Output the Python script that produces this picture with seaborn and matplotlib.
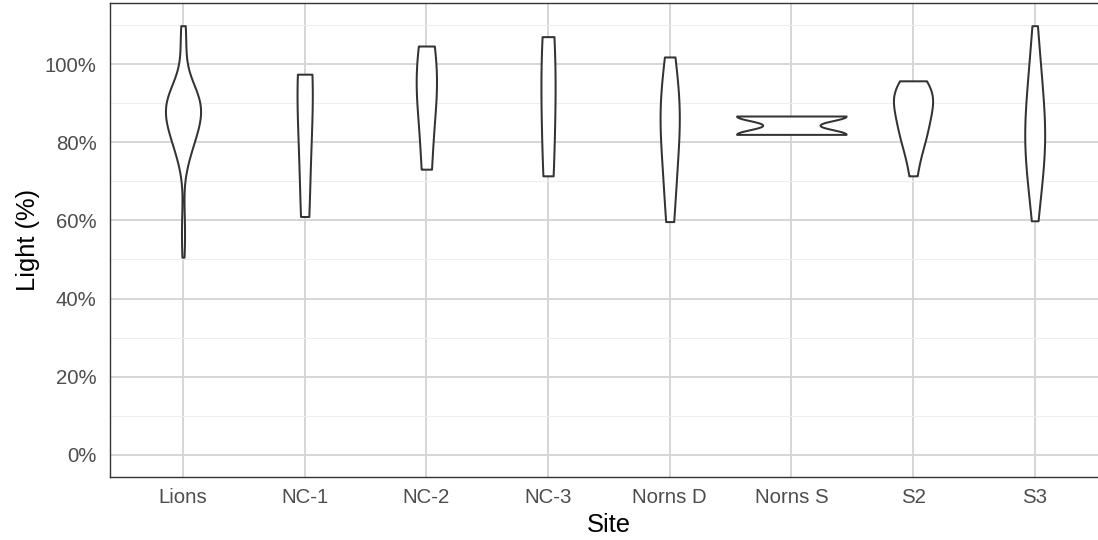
import numpy as np
import pandas as pd
import matplotlib
matplotlib.use("Agg")
import matplotlib.pyplot as plt
from matplotlib.ticker import FixedLocator
import seaborn as sns

# ---------------- data (light %) ----------------
sites = ["Lions", "NC-1", "NC-2", "NC-3", "Norns D", "Norns S", "S2", "S3"]

lions = [50.6, 55.0, 58.0, 62.5,
         73.7, 75.4, 76.5, 77.4, 78.2, 78.9, 79.5, 80.1, 80.7, 81.2,
         81.7, 82.2, 82.6, 83.1, 83.5, 83.9, 84.3, 84.7, 85.0, 85.4,
         85.7, 86.1, 86.4, 86.7, 87.1, 87.4, 87.7, 88.0, 88.3, 88.6,
         88.9, 89.1, 89.4, 89.7, 90.0, 90.2, 90.5, 90.8, 91.0, 91.3,
         91.6, 91.9, 92.2, 92.5, 92.8, 93.0, 93.3, 93.7, 94.3, 95.0,
         100.5, 103.0, 105.5, 108.0, 109.8, 109.8]
nc1 = [61.0, 80.0, 97.4, 97.4]
nc2 = [73.1, 90.0, 96.0, 104.6]
nc3 = [71.4, 92.0, 107.0]
norns_d = [59.7, 69.0, 76.0, 82.0, 86.0, 90.0, 94.0, 101.8]
norns_s = [82.0, 82.0, 82.0, 82.0, 82.0, 82.0, 82.0,
           86.7, 86.7, 86.7, 86.7, 86.7, 86.7, 86.7]
s2 = [71.4, 76.5, 79.0, 81.0, 82.7, 84.2, 85.7, 87.0, 88.6, 89.8,
      91.0, 92.0, 93.0, 93.8, 94.7, 95.7]
s3 = [59.9, 64.6, 67.9, 70.7, 73.0, 75.1, 77.1, 78.8, 80.5, 82.2,
      83.9, 85.7, 87.6, 89.7, 91.9, 94.4, 97.1, 100.3, 104.1, 109.8]

y_major = [0, 20, 40, 60, 80, 100]
y_minor = [10, 30, 50, 70, 90, 110]
y_labels = ["0%", "20%", "40%", "60%", "80%", "100%"]

values_by_site = [lions, nc1, nc2, nc3, norns_d, norns_s, s2, s3]
df = pd.concat(
    [pd.DataFrame({"Site": s, "Light": v}) for s, v in zip(sites, values_by_site)],
    ignore_index=True,
)

# ---------------- style ----------------
sns.set_style("white")
plt.rcParams["font.family"] = ["Liberation Sans", "DejaVu Sans"]

W, H = 1098, 540
fig = plt.figure(figsize=(W / 100, H / 100), dpi=100)
left_px, right_px, top_px, bottom_px = 110, 1107.7, 3.4, 476.5
ax = fig.add_axes([left_px / W, (H - bottom_px) / H,
                   (right_px - left_px) / W, (bottom_px - top_px) / H])

sns.violinplot(
    data=df, x="Site", y="Light", order=sites, ax=ax,
    cut=0, density_norm="area", inner=None, width=0.9,
    color="white", saturation=1, linecolor="#333333", linewidth=1.45,
)

ax.set_xlim(-0.6, len(sites) - 0.4)
ax.set_ylim(-5.5, 115.5)
ax.set_yticks(y_major)
ax.set_yticklabels(y_labels)
ax.yaxis.set_minor_locator(FixedLocator(y_minor))

ax.set_axisbelow(True)
ax.grid(which="major", axis="both", color="#D6D6D6", linewidth=1.4)
ax.grid(which="minor", axis="y", color="#EEEEEE", linewidth=0.8)

ax.tick_params(which="minor", length=0)
ax.tick_params(axis="both", which="major", length=4.6, width=1.1,
               color="#333333", labelsize=14.7, labelcolor="#4D4D4D")
ax.tick_params(axis="x", pad=3.9)
ax.tick_params(axis="y", pad=5.0)

for sp in ax.spines.values():
    sp.set_visible(True)
    sp.set_color("#333333")
    sp.set_linewidth(1.0)

ax.set_xlabel("Site", fontsize=18.4, color="black")
ax.set_ylabel("Light (%)", fontsize=18.4, color="black")
ax.xaxis.set_label_coords(0.5, (bottom_px - 513) / (bottom_px - top_px))
ax.yaxis.set_label_coords((40.5 - left_px) / (right_px - left_px), 0.5)

fig.savefig("out.png", dpi=100, facecolor="white")
